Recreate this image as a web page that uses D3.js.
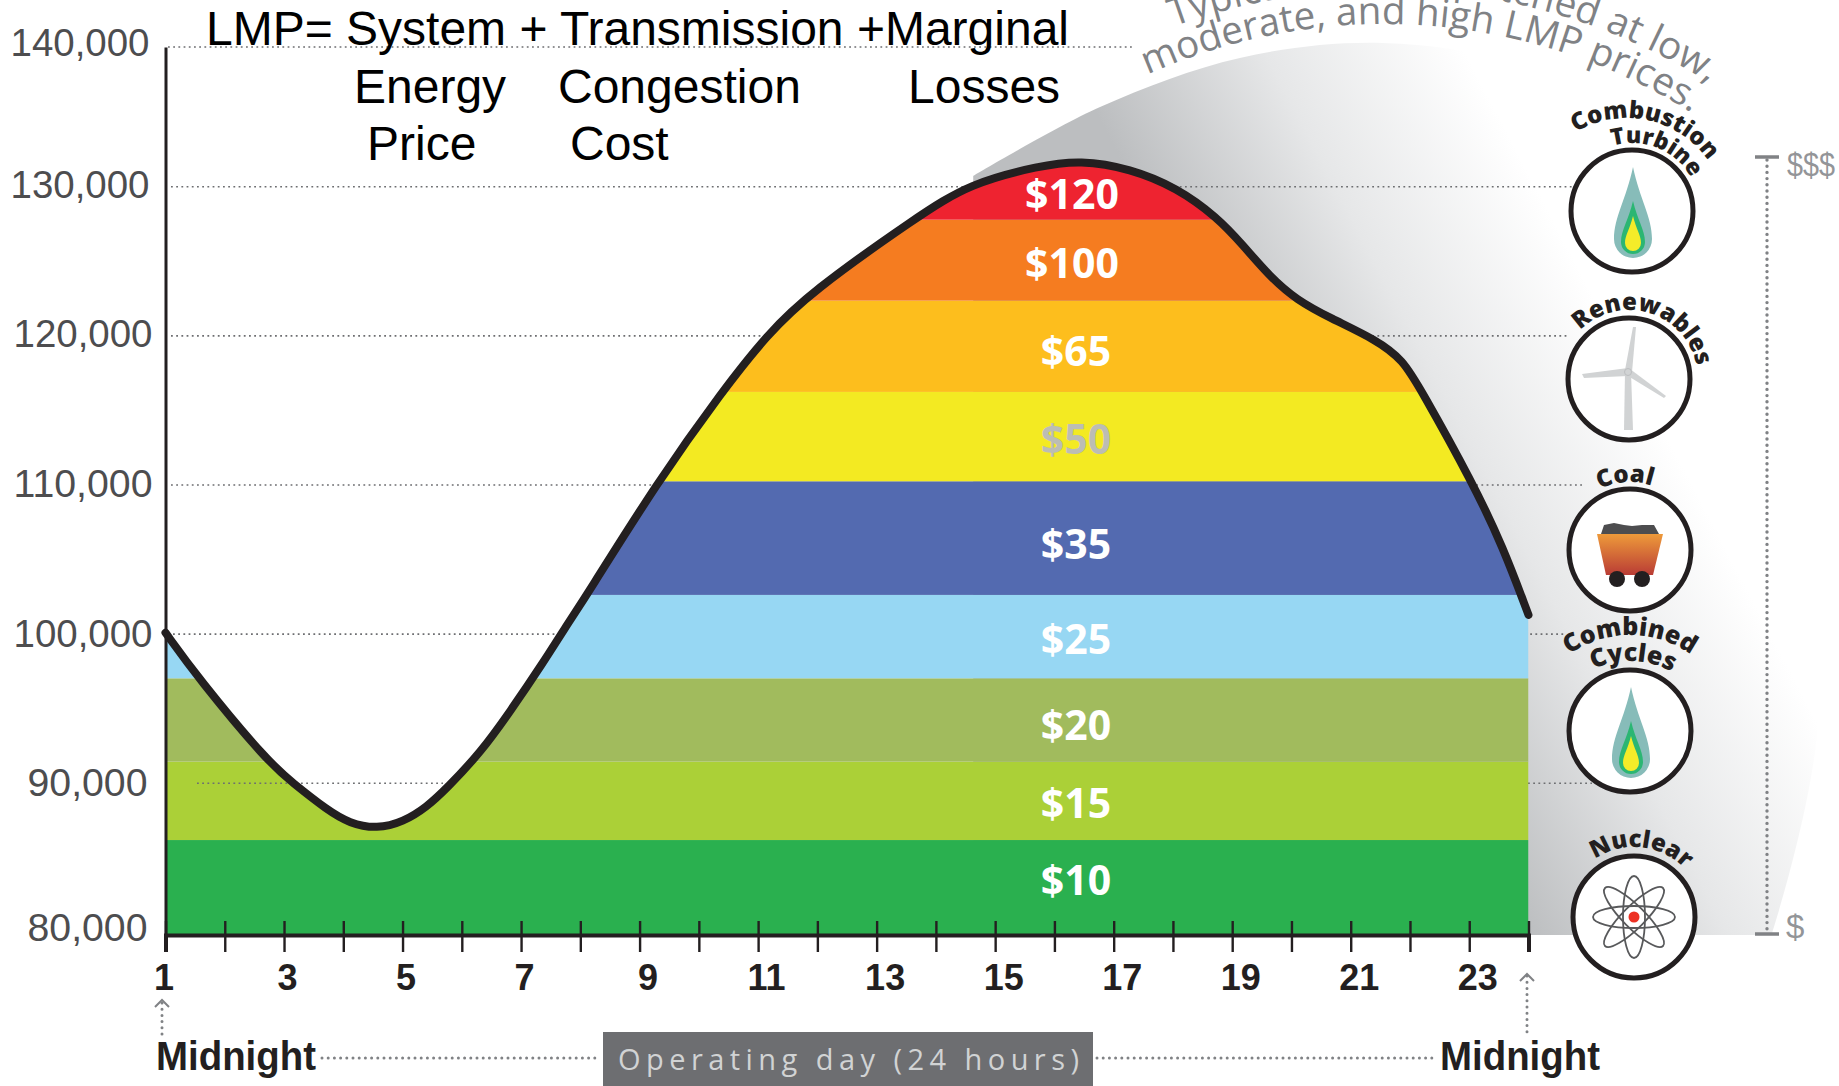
<!DOCTYPE html>
<html>
<head>
<meta charset="utf-8">
<script src="https://cdn.jsdelivr.net/npm/d3@7"></script>
<style>
  html, body { margin: 0; background: #fff; }
  svg { display: block; }
  .narrow { font-family: "Liberation Sans Narrow", "Liberation Sans", sans-serif; }
  .curved { font-family: "Open Sans", sans-serif; font-weight: 800; fill: #231f20; text-anchor: middle; }
</style>
</head>
<body>
<svg width="1839" height="1086"></svg>
<script>
// load curve
const hours = [1, 1.55, 2.73, 3.15, 3.73, 4.11, 4.57, 5.01, 5.41, 5.75, 6.31, 6.81, 7.37, 7.74, 8.11, 9.29, 10.41, 11.15, 11.87, 13.68, 14.58, 15.76, 16.43, 17.28, 18.07, 18.74, 19.18, 19.64, 20.09, 20.65, 21.44, 21.88, 22.17, 23.06, 23.57, 24];
const load = [100100, 97060, 91430, 90020, 88240, 87350, 87000, 87450, 88440, 89690, 92030, 94780, 98070, 100410, 102630, 110140, 116370, 120060, 122880, 127970, 130260, 131500, 131900, 131300, 129920, 127970, 126090, 123950, 122400, 121200, 119720, 118380, 116500, 110140, 105840, 101290];

// price bands, bottom to top (MW at top of each band)
const prices = ["$10", "$15", "$20", "$25", "$35", "$50", "$65", "$100", "$120"];
const bandTops = [86260, 91450, 97040, 102630, 110250, 116240, 122360, 127790, 140000];
const bandColors = ["#2ab04f", "#abd037", "#a1bb5d", "#97d7f3", "#536ab0", "#f3ea22", "#fdbe1d", "#f57c20", "#ee2330"];
const priceLabelMW = [83660, 88770, 93940, 99740, 106110, 113150, 119050, 124890, 129545];
const priceColors = ["#fff", "#fff", "#fff", "#fff", "#fff", "#bcbdb4", "#fff", "#fff", "#fff"];

const mwTicks = [80000, 90000, 100000, 110000, 120000, 130000, 140000];
const mwLabelShift = [-9, -2, -2, -3, -3, -3, -6];
const mwLabelDx = [-3, -3, 2, 2, 2, -1, -1];
const hourTicks = d3.range(1, 25);

// edge of the grey backdrop
const domeHours = [14.63, 16.77, 19.13, 21.54, 23.86, 26.05, 27.9, 28.9, 28.1];
const domeMW = [130770, 135700, 139220, 140290, 138710, 134060, 124420, 94910, 80000];

const formula = [
  ["LMP= System + Transmission +Marginal", 206, 45],
  ["Energy", 354, 103], ["Congestion", 558, 103], ["Losses", 908, 103],
  ["Price", 367, 160], ["Cost", 570, 160]
];

const svg = d3.select("svg");
const x = d3.scaleLinear().domain([1, 24]).range([165.5, 1528.5]);
// the printed grid is not quite even, so the scale has a knot at each uneven spot
const y = d3.scaleLinear().domain([80000, 90000, 130000, 140000]).range([935, 783.3, 186.7, 47]);
const defs = svg.append("defs");

function arcPath(cx, cy, r, mid) {
  const a0 = (mid - 90) * Math.PI / 180, a1 = (mid + 90) * Math.PI / 180;
  return `M${cx + r * Math.sin(a0)},${cy - r * Math.cos(a0)}A${r},${r} 0 0 1 ${cx + r * Math.sin(a1)},${cy - r * Math.cos(a1)}`;
}
let arcId = 0;
function curvedText(txt, cx, cy, r, mid, size, cls, fill) {
  const id = "arc" + arcId++;
  defs.append("path").attr("id", id).attr("d", arcPath(cx, cy, r, mid));
  const t = svg.append("text").attr("class", cls).attr("font-size", size);
  if (fill) t.attr("fill", fill);
  t.append("textPath").attr("href", "#" + id).attr("startOffset", "50%").text(txt);
}

// grey backdrop
const grad = defs.append("linearGradient").attr("id", "dome").attr("gradientUnits", "userSpaceOnUse")
  .attr("x1", 1100).attr("y1", 120).attr("x2", 1414).attr("y2", -45);
grad.append("stop").attr("offset", 0).attr("stop-color", "#bcbec0");
grad.append("stop").attr("offset", 0.5).attr("stop-color", "#e6e7e8");
grad.append("stop").attr("offset", 1).attr("stop-color", "#ffffff");
const domeEdge = d3.line().curve(d3.curveCatmullRom).x(d => x(d[0])).y(d => y(d[1]));
svg.append("path")
  .attr("d", domeEdge(d3.zip(domeHours, domeMW)) + `L${x(domeHours[0])},${y(80000)}Z`)
  .attr("fill", "url(#dome)");

// dotted grid
const dotted = (x1, x2, yy) => svg.append("line").attr("x1", x1).attr("x2", x2).attr("y1", yy).attr("y2", yy)
  .attr("stroke", "#6d6e71").attr("stroke-width", 1.6).attr("stroke-dasharray", "1.8,3.4");
dotted(168, 1135, y(140000));
dotted(171, 1572, y(130000));
dotted(171, 1568, y(120000));
dotted(171, 1584, y(110000));
dotted(173, 1566, y(100000));
dotted(1528, 1592, y(90000));

// price bands clipped under the load curve
const area = d3.area().curve(d3.curveBasis).x(d => x(d[0])).y0(y(80000)).y1(d => y(d[1]));
const curveData = d3.zip(hours, load);
defs.append("clipPath").attr("id", "under").append("path").attr("d", area(curveData));
svg.append("g").attr("clip-path", "url(#under)")
  .selectAll("rect").data(bandTops).join("rect")
  .attr("x", x(1)).attr("width", x(24) - x(1))
  .attr("y", d => y(d))
  .attr("height", (d, i) => y(i ? bandTops[i - 1] : 80000) - y(d))
  .attr("fill", (d, i) => bandColors[i]);

dotted(197, 443, y(90000));

svg.append("path")
  .attr("d", d3.line().curve(d3.curveBasis).x(d => x(d[0])).y(d => y(d[1]))(curveData))
  .attr("fill", "none").attr("stroke", "#231f20").attr("stroke-width", 8).attr("stroke-linecap", "round");

svg.append("g").selectAll("text").data(prices).join("text")
  .attr("x", (d, i) => i > 6 ? 1072 : 1076)
  .attr("y", (d, i) => y(priceLabelMW[i]))
  .attr("dy", "0.38em")
  .attr("text-anchor", "middle")
  .attr("font-family", "'Open Sans', sans-serif").attr("font-weight", 700).attr("font-size", 41)
  .attr("fill", (d, i) => priceColors[i])
  .text(d => d);

// y axis
const yAxis = svg.append("g").attr("transform", `translate(${x(1)},0)`)
  .call(d3.axisLeft(y).tickValues(mwTicks).tickSize(0).tickPadding(15).tickFormat(d3.format(",")));
yAxis.select(".domain").attr("stroke", "#231f20").attr("stroke-width", 3);
yAxis.selectAll("text")
  .attr("font-family", "'Liberation Sans', sans-serif").attr("font-size", 39).attr("fill", "#4d4d4f")
  .attr("textLength", d => d >= 100000 ? 139 : 120).attr("lengthAdjust", "spacingAndGlyphs")
  .attr("transform", (d, i) => `translate(${mwLabelDx[i]},${mwLabelShift[i]})`)
  .attr("dy", "0.36em");

// hour axis
const xAxis = svg.append("g").attr("transform", `translate(0,${y(80000)})`)
  .call(d3.axisBottom(x).tickValues(hourTicks).tickSize(17).tickPadding(12).tickFormat(d => d % 2 ? d : ""));
xAxis.select(".domain").attr("stroke", "#231f20").attr("stroke-width", 4);
xAxis.selectAll(".tick line").attr("y1", -14).attr("stroke", "#231f20").attr("stroke-width", 2.4);
xAxis.selectAll("text").attr("class", "narrow")
  .attr("font-size", 36).attr("font-weight", 700).attr("fill", "#231f20")
  .attr("dx", d => d > 8 ? 8 : (d == 1 ? -2 : 3));

// midnight notes
[["Midnight", 156], ["Midnight", 1440]].forEach(([t, px]) => {
  svg.append("text").attr("class", "narrow").attr("x", px).attr("y", 1070)
    .attr("font-size", 41).attr("font-weight", 700).attr("fill", "#231f20")
    .attr("textLength", 160).attr("lengthAdjust", "spacingAndGlyphs").text(t);
});
svg.append("rect").attr("x", 603).attr("y", 1032).attr("width", 490).attr("height", 54).attr("fill", "#6d6e71");
svg.append("text").attr("x", 618).attr("y", 1070)
  .attr("font-family", "'Open Sans', sans-serif").attr("font-size", 29).attr("fill", "#d1d3d4")
  .attr("textLength", 461).text("Operating day (24 hours)");

const dots = (x1, y1, x2, y2, w) => svg.append("line").attr("x1", x1).attr("y1", y1).attr("x2", x2).attr("y2", y2)
  .attr("stroke", "#808285").attr("stroke-width", w || 3).attr("stroke-linecap", "round").attr("stroke-dasharray", "0,6.2");
dots(322, 1058, 600, 1058);
dots(1097, 1058, 1433, 1058);
dots(162, 1003, 162, 1036);
dots(1527, 976, 1527, 1032);
[[162, 1000], [1527, 974]].forEach(([ax, ay]) => {
  svg.append("path").attr("d", `M${ax - 7},${ay + 7}L${ax},${ay}L${ax + 7},${ay + 7}`)
    .attr("fill", "none").attr("stroke", "#808285").attr("stroke-width", 2);
});

// $ scale on the right
dots(1767, 160, 1767, 932, 3.4);
[157, 934].forEach(py => svg.append("line").attr("x1", 1755).attr("x2", 1779).attr("y1", py).attr("y2", py)
  .attr("stroke", "#808285").attr("stroke-width", 3.5));
svg.append("text").attr("class", "narrow").attr("x", 1787).attr("y", 176).attr("font-size", 33).attr("fill", "#939598")
  .attr("textLength", 48).attr("lengthAdjust", "spacingAndGlyphs").text("$$$");
svg.append("text").attr("class", "narrow").attr("x", 1786).attr("y", 938).attr("font-size", 33).attr("fill", "#939598").text("$");

// formula on top
svg.append("g").selectAll("text").data(formula).join("text")
  .attr("x", d => d[1]).attr("y", d => d[2])
  .attr("font-family", "'Liberation Sans', sans-serif").attr("font-size", 48).attr("fill", "#000")
  .text(d => d[0]);

// arched caption, top line runs off the page
curvedText("Typical units dispatched at low,", 1384, 602, 613, 6, 38.5, "cap", "#808285");
curvedText("moderate, and high LMP prices.", 1384, 602, 578, 4, 38.5, "cap", "#808285");
svg.selectAll(".cap").attr("font-family", "'Open Sans', sans-serif").attr("text-anchor", "middle");

// generator icons
const icons = [
  { cx: 1632, cy: 211 }, { cx: 1629, cy: 379 }, { cx: 1630, cy: 550 }, { cx: 1630, cy: 731 }, { cx: 1634, cy: 917 }
];
icons.forEach(c => svg.append("circle").attr("cx", c.cx).attr("cy", c.cy).attr("r", 61)
  .attr("fill", "#fff").attr("stroke", "#231f20").attr("stroke-width", 5));

function flame(c) {
  const g = svg.append("g").attr("transform", `translate(${c.cx},${c.cy})`);
  const drop = (top, bot, hw, fill) => g.append("path")
    .attr("d", `M1,${top}C${1 + hw * 0.35},${top + (bot - top) * 0.35} ${1 + hw},${top + (bot - top) * 0.55} ${1 + hw},${bot - hw}A${hw},${hw} 0 0 1 ${1 - hw},${bot - hw}C${1 - hw},${top + (bot - top) * 0.55} ${1 - hw * 0.35},${top + (bot - top) * 0.35} 1,${top}Z`)
    .attr("fill", fill);
  drop(-44, 47, 19, "#87bcb9");
  drop(-10, 43, 12, "#2bb673");
  drop(5, 40, 8, "#f4ec29");
}
flame(icons[0]);
flame(icons[3]);

// turbine
const wind = svg.append("g").attr("transform", `translate(${icons[1].cx - 1},${icons[1].cy - 7})`).attr("fill", "#d1d3d4");
wind.append("path").attr("d", "M-3,0L-4,58L5,58L3,0Z");
wind.append("path").attr("d", "M-3,-2L5,-45L8,-45L4,0Z");
wind.append("path").attr("d", "M0,-4L-46,2L-44,6L0,4Z");
wind.append("path").attr("d", "M2,-3L38,24L36,26L0,4Z");
wind.append("circle").attr("r", 3.5).attr("stroke", "#bcbec0");

// coal cart
const cartGrad = defs.append("linearGradient").attr("id", "cart").attr("x1", 0).attr("x2", 0).attr("y1", 0).attr("y2", 1);
cartGrad.append("stop").attr("offset", 0).attr("stop-color", "#ee9a3a");
cartGrad.append("stop").attr("offset", 1).attr("stop-color", "#b93c35");
const cart = svg.append("g").attr("transform", `translate(${icons[2].cx},${icons[2].cy})`);
cart.append("path").attr("d", "M-29,-16L-26,-25L-16,-27L-6,-25L2,-24L12,-25L24,-25L29,-16Z").attr("fill", "#4d4d4f");
cart.append("path").attr("d", "M-33,-16L33,-16L23,25L-24,25Z").attr("fill", "url(#cart)");
[-13, 12].forEach(px => cart.append("circle").attr("cx", px).attr("cy", 29).attr("r", 8).attr("fill", "#231f20"));

// atom
const atom = svg.append("g").attr("transform", `translate(${icons[4].cx},${icons[4].cy})`);
[0, 45, 90, 135].forEach(a => atom.append("ellipse").attr("rx", 41).attr("ry", 11).attr("transform", `rotate(${a})`)
  .attr("fill", "none").attr("stroke", "#58595b").attr("stroke-width", 1.8));
atom.append("circle").attr("r", 5.5).attr("fill", "#ed3124");

// arched names
curvedText("Combustion", icons[0].cx - 5, icons[0].cy + 6, 99, 12, 24, "curved");
curvedText("Turbine", icons[0].cx, icons[0].cy, 68, 22, 23, "curved");
curvedText("Renewables", icons[1].cx, icons[1].cy, 69, 17, 24, "curved");
curvedText("Coal", icons[2].cx, icons[2].cy, 68, -4, 24, "curved");
curvedText("Combined", icons[3].cx, icons[3].cy + 9, 105, 0, 25, "curved");
curvedText("Cycles", icons[3].cx, icons[3].cy + 16, 86, 2, 25, "curved");
curvedText("Nuclear", icons[4].cx, icons[4].cy, 70, 6, 24, "curved");
</script>
</body>
</html>
